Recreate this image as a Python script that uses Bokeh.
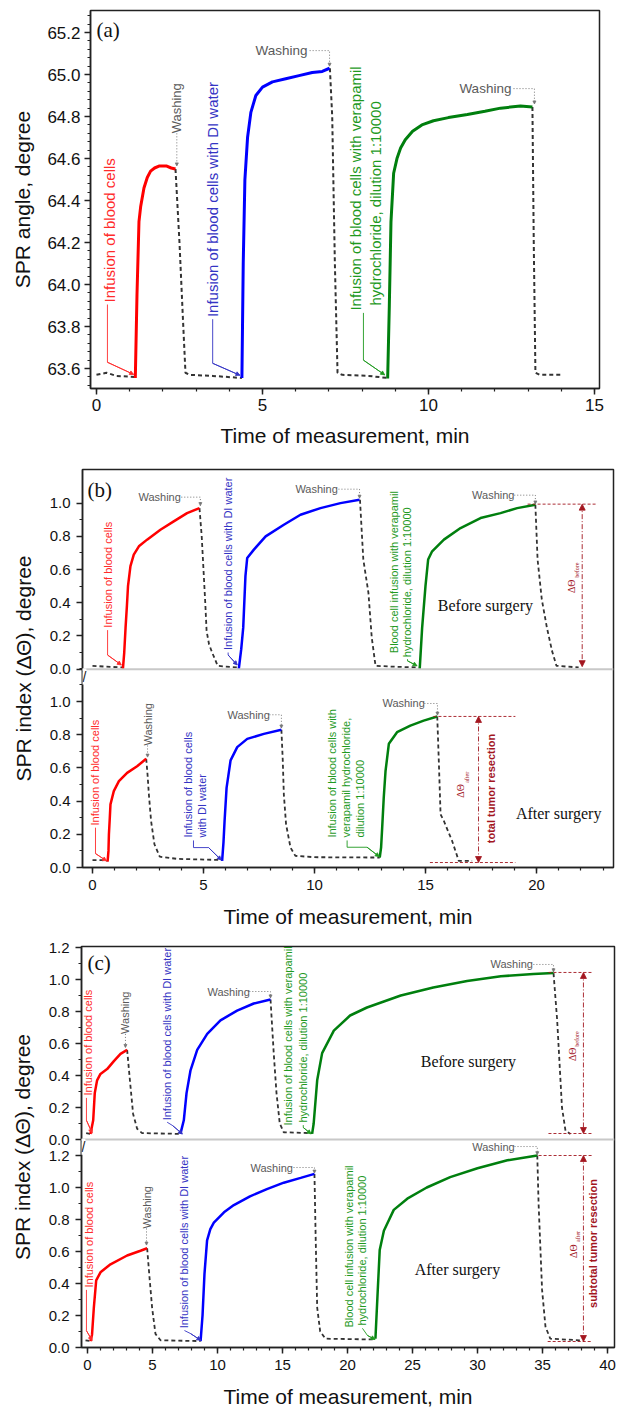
import numpy as np
from bokeh.plotting import figure
from bokeh.models import (Range1d, Span, Arrow, NormalHead, Label, FixedTicker,
                          SingleIntervalTicker, CustomJSTickFormatter, PrintfTickFormatter)
from bokeh.embed import file_html
from bokeh.resources import INLINE
from bokeh.core.properties import value

# ---------------- DATA ----------------
# Panel (a): SPR angle, degree vs time, min
a_base_t = [0.0, 0.3, 0.6, 1.17]
a_base_v = [63.57, 63.58, 63.565, 63.56]
a_red_t = [1.17, 1.22, 1.28, 1.33, 1.43, 1.53, 1.63, 1.75, 1.9, 2.1, 2.25, 2.38]
a_red_v = [63.555, 63.95, 64.3, 64.37, 64.46, 64.51, 64.54, 64.555, 64.565, 64.565, 64.555, 64.55]
a_w1_t = [2.38, 2.5, 2.6, 2.68, 2.8, 3.5, 4.38]
a_w1_v = [64.55, 64.2, 63.85, 63.58, 63.57, 63.565, 63.555]
a_blue_t = [4.38, 4.42, 4.47, 4.55, 4.65, 4.8, 5.0, 5.3, 5.7, 6.1, 6.5, 6.8, 7.02]
a_blue_v = [63.555, 64.1, 64.5, 64.7, 64.82, 64.9, 64.94, 64.965, 64.98, 64.995, 65.01, 65.015, 65.03]
a_w2_t = [7.03, 7.1, 7.18, 7.26, 7.4, 8.2, 8.77]
a_w2_v = [65.03, 64.8, 64.1, 63.58, 63.57, 63.565, 63.555]
a_green_t = [8.77, 8.82, 8.87, 8.95, 9.05, 9.16, 9.3, 9.52, 9.8, 10.15, 10.6, 11.17, 11.7, 12.17, 12.77, 13.13]
a_green_v = [63.553, 63.9, 64.3, 64.53, 64.6, 64.65, 64.69, 64.73, 64.76, 64.78, 64.795, 64.81, 64.825, 64.84, 64.85, 64.845]
a_w3_t = [13.13, 13.17, 13.22, 13.35, 13.98]
a_w3_v = [64.845, 64.2, 63.58, 63.57, 63.57]

# Panel (b) before surgery (upper)
b1_base_t = [0.0, 0.6, 1.37]
b1_base_v = [0.02, 0.015, 0.01]
b1_red_t = [1.37, 1.43, 1.49, 1.55, 1.6, 1.71, 1.86, 2.09, 2.46, 3.06, 3.66, 4.26, 4.82]
b1_red_v = [0.0, 0.1, 0.25, 0.38, 0.5, 0.62, 0.69, 0.74, 0.78, 0.84, 0.89, 0.94, 0.97]
b1_w1_t = [4.82, 4.92, 5.0, 5.08, 5.14, 5.25, 5.39, 5.64, 6.0, 6.59]
b1_w1_v = [0.97, 0.8, 0.6, 0.4, 0.23, 0.15, 0.1, 0.02, 0.015, 0.01]
b1_blue_t = [6.59, 6.7, 6.79, 6.89, 6.97, 7.27, 7.8, 8.62, 9.37, 10.27, 11.17, 12.03]
b1_blue_v = [0.0, 0.12, 0.25, 0.56, 0.67, 0.72, 0.8, 0.87, 0.93, 0.97, 1.0, 1.02]
b1_w2_t = [12.05, 12.12, 12.2, 12.43, 12.58, 12.75, 13.5, 14.7]
b1_w2_v = [1.02, 0.85, 0.66, 0.46, 0.19, 0.02, 0.015, 0.01]
b1_green_t = [14.74, 14.85, 15.0, 15.12, 15.3, 15.83, 16.58, 17.48, 18.38, 19.13, 19.95]
b1_green_v = [0.0, 0.25, 0.5, 0.66, 0.71, 0.78, 0.85, 0.91, 0.94, 0.97, 0.99]
b1_w3_t = [19.95, 20.05, 20.24, 20.47, 20.7, 20.9, 21.9]
b1_w3_v = [0.99, 0.66, 0.42, 0.25, 0.11, 0.02, 0.01]

# Panel (b) after surgery (lower)
b2_base_t = [0.0, 0.4, 0.68]
b2_base_v = [0.045, 0.045, 0.04]
b2_red_t = [0.68, 0.72, 0.74, 0.78, 0.81, 0.96, 1.19, 1.56, 2.01, 2.42]
b2_red_v = [0.035, 0.1, 0.2, 0.3, 0.38, 0.46, 0.52, 0.57, 0.61, 0.655]
b2_w1_t = [2.42, 2.48, 2.54, 2.64, 2.79, 3.03, 3.81, 5.84]
b2_w1_v = [0.655, 0.56, 0.44, 0.28, 0.14, 0.065, 0.052, 0.045]
b2_blue_t = [5.84, 5.9, 5.95, 6.04, 6.22, 6.52, 6.97, 7.72, 8.51]
b2_blue_v = [0.04, 0.15, 0.28, 0.48, 0.645, 0.725, 0.775, 0.805, 0.83]
b2_w2_t = [8.51, 8.57, 8.62, 8.72, 8.92, 9.14, 10.0, 12.94]
b2_w2_v = [0.83, 0.65, 0.44, 0.26, 0.12, 0.07, 0.062, 0.06]
b2_green_t = [12.94, 13.0, 13.05, 13.12, 13.2, 13.35, 13.72, 14.32, 14.92, 15.53]
b2_green_v = [0.06, 0.12, 0.24, 0.42, 0.58, 0.745, 0.815, 0.855, 0.885, 0.91]
b2_w3_t = [15.53, 15.6, 15.68, 15.83, 16.2, 16.5, 17.1]
b2_w3_v = [0.91, 0.645, 0.32, 0.28, 0.16, 0.04, 0.04]

# Panel (c) before surgery (upper)
c1_base_t = [-0.1, 0.23]
c1_base_v = [0.04, 0.035]
c1_red_t = [0.23, 0.44, 0.56, 0.74, 1.0, 1.51, 2.03, 2.54, 3.05]
c1_red_v = [0.035, 0.12, 0.29, 0.37, 0.41, 0.44, 0.49, 0.535, 0.56]
c1_w1_t = [3.05, 3.31, 3.51, 3.82, 4.2, 7.15]
c1_w1_v = [0.56, 0.33, 0.16, 0.067, 0.04, 0.035]
c1_blue_t = [7.15, 7.41, 7.62, 7.92, 8.44, 9.21, 10.23, 11.51, 12.79, 14.08]
c1_blue_v = [0.035, 0.12, 0.29, 0.43, 0.56, 0.66, 0.745, 0.805, 0.85, 0.875]
c1_w2_t = [14.08, 14.33, 14.54, 14.79, 15.1, 17.28]
c1_w2_v = [0.875, 0.535, 0.29, 0.1, 0.045, 0.04]
c1_green_t = [17.28, 17.4, 17.67, 18.05, 18.95, 20.2, 21.5, 24.1, 26.6, 29.2, 31.8, 34.3, 35.85]
c1_green_v = [0.035, 0.1, 0.37, 0.54, 0.68, 0.775, 0.825, 0.9, 0.95, 0.99, 1.02, 1.035, 1.04]
c1_w3_t = [35.85, 36.13, 36.5, 36.77, 37.15]
c1_w3_v = [1.04, 0.745, 0.2, 0.055, 0.035]

# Panel (c) after surgery (lower)
c2_base_t = [-0.15, 0.23]
c2_base_v = [0.045, 0.04]
c2_red_t = [0.23, 0.35, 0.49, 0.67, 1.0, 1.77, 3.05, 4.08, 4.59]
c2_red_v = [0.04, 0.08, 0.25, 0.42, 0.47, 0.52, 0.575, 0.605, 0.62]
c2_w1_t = [4.59, 4.79, 4.97, 5.23, 5.62, 8.7]
c2_w1_v = [0.62, 0.42, 0.25, 0.085, 0.045, 0.04]
c2_blue_t = [8.7, 8.85, 9.0, 9.2, 9.45, 9.72, 10.5, 11.26, 12.5, 13.8, 15.1, 16.4, 17.46]
c2_blue_v = [0.04, 0.2, 0.46, 0.67, 0.74, 0.78, 0.845, 0.89, 0.945, 0.99, 1.03, 1.06, 1.085]
c2_w2_t = [17.46, 17.55, 17.67, 17.9, 18.3, 22.15]
c2_w2_v = [1.085, 0.7, 0.25, 0.1, 0.055, 0.05]
c2_green_t = [22.15, 22.33, 22.48, 22.8, 23.56, 24.6, 26.1, 27.9, 30.0, 32.3, 34.6]
c2_green_v = [0.055, 0.36, 0.61, 0.73, 0.86, 0.93, 1.0, 1.065, 1.12, 1.17, 1.2]
c2_w3_t = [34.6, 34.7, 34.97, 35.23, 35.6, 37.9]
c2_w3_v = [1.2, 0.9, 0.36, 0.13, 0.055, 0.045]

# tick values
bc_y_ticks_b = [0.0, 0.2, 0.4, 0.6, 0.8, 1.0]
bc_y_ticks_c = [0.0, 0.2, 0.4, 0.6, 0.8, 1.0, 1.2]

# ---------------- STYLE ----------------
SANS = "Liberation Sans"
SERIF = "Liberation Serif"
RED, BLUE, GREEN, DASHC = "#ff0000", "#0000ff", "#007f0e", "#333333"
RED_T, BLUE_T, GREEN_T, GRAY_T, DRED = "#ff2b2b", "#3434c4", "#1f9a1f", "#5a5a5a", "#a3161f"
AX = "#222222"
ROT = np.pi / 2


def kw(yr):
    return {} if yr is None else {"y_range_name": yr}


def L(p, xs, ys, color, width, dash="solid", yr=None):
    p.line(xs, ys, line_color=color, line_width=width, line_dash=dash, **kw(yr))


def T(p, x, y, s, size, color, angle=0.0, align="left", baseline="middle",
      font=SANS, style="normal", yr=None):
    p.text(x=[x], y=[y], text=[s], angle=angle, text_font=value(font),
           text_font_size=value(size), text_color=color, text_align=align,
           text_baseline=baseline, text_font_style=style, **kw(yr))


def A(p, x0, y0, x1, y1, color, width=1.0, size=5, dash="solid", yr=None, both=False):
    head = lambda: NormalHead(size=size, fill_color=color, line_color=color, line_width=0.8)
    ar = Arrow(end=head(), start=head() if both else None, x_start=x0, y_start=y0,
               x_end=x1, y_end=y1, line_color=color, line_width=width, line_dash=dash, **kw(yr))
    p.add_layout(ar)


def leader(p, pts, color, yr=None, size=4):
    xs = [q[0] for q in pts]
    ys = [q[1] for q in pts]
    L(p, xs, ys, color, 0.9, yr=yr)
    A(p, xs[-2], ys[-2], xs[-1], ys[-1], color, width=0.9, size=size, yr=yr)


def washing_h(p, x, y, xend, xc, yc, size, yr=None):
    T(p, x, y, "Washing", size, GRAY_T, yr=yr)
    L(p, [xend, xc, xc], [y, y, yc], "#777777", 1.0, dash="1 2", yr=yr)
    A(p, xc, y, xc, yc, "#777777", width=0.01, size=3, yr=yr)


def washing_v(p, x, y, yc, size, yr=None):
    T(p, x, y, "Washing", size, GRAY_T, angle=ROT, yr=yr)
    L(p, [x, x], [y, yc], "#777777", 1.0, dash="1 2", yr=yr)
    A(p, x, y, x, yc, "#777777", width=0.01, size=3, yr=yr)


def style_axes(p, tick_size, title_size, lab_standoff, title_standoff):
    p.outline_line_color = AX
    p.outline_line_width = 1.5
    p.xgrid.visible = False
    p.ygrid.visible = False
    p.background_fill_color = "white"
    p.border_fill_color = "white"
    for ax in list(p.xaxis) + list(p.yaxis):
        ax.axis_line_color = AX
        ax.axis_line_width = 1.5
        ax.major_tick_line_color = AX
        ax.major_tick_line_width = 1.5
        ax.minor_tick_line_color = AX
        ax.minor_tick_line_width = 1.2
        ax.major_tick_in = 0
        ax.major_tick_out = 6
        ax.minor_tick_in = 0
        ax.minor_tick_out = 3
        ax.major_label_text_font = SANS
        ax.major_label_text_font_size = tick_size
        ax.major_label_text_color = "#111111"
        ax.major_label_standoff = lab_standoff
        ax.axis_label_text_font = SANS
        ax.axis_label_text_font_size = title_size
        ax.axis_label_text_font_style = "normal"
        ax.axis_label_text_color = "#111111"
        ax.axis_label_standoff = title_standoff


def curves(p, segs, lw, dw, yr=None):
    for (t, v, c) in segs:
        if c == "dash":
            L(p, t, v, DASHC, dw, dash="4 3", yr=yr)
        else:
            L(p, t, v, c, lw, yr=yr)


# ---------------- PANEL (a) ----------------
pa = figure(frame_width=509, frame_height=378, x_range=Range1d(-0.18, 15.15),
            y_range=Range1d(63.505, 65.305), output_backend="svg", toolbar_location=None,
            min_border_left=90, min_border_right=8, min_border_top=10, min_border_bottom=73)
pa.xaxis.ticker = SingleIntervalTicker(interval=5, num_minor_ticks=5)
pa.yaxis.ticker = SingleIntervalTicker(interval=0.2, num_minor_ticks=5)
pa.xaxis.formatter = PrintfTickFormatter(format="%d")
pa.yaxis.formatter = PrintfTickFormatter(format="%.1f")
pa.xaxis.axis_label = "Time of measurement, min"
pa.yaxis.axis_label = "SPR angle, degree"
style_axes(pa, "17px", "21px", 4, 10)

curves(pa, [(a_base_t, a_base_v, "dash"), (a_w1_t, a_w1_v, "dash"), (a_w2_t, a_w2_v, "dash"),
            (a_w3_t, a_w3_v, "dash"), (a_red_t, a_red_v, RED), (a_blue_t, a_blue_v, BLUE),
            (a_green_t, a_green_v, GREEN)], 3, 2)

T(pa, 0.0, 65.21, "(a)", "21px", "#111111", font=SERIF)
T(pa, 0.38, 63.915, "Infusion of blood cells", "15px", RED_T, angle=ROT)
leader(pa, [(0.33, 63.905), (0.33, 63.63), (1.12, 63.572)], RED_T)
T(pa, 3.48, 63.845, "Infusion of blood cells with DI water", "15px", BLUE_T, angle=ROT)
leader(pa, [(3.5, 63.835), (3.5, 63.625), (4.32, 63.568)], BLUE_T)
T(pa, 7.8, 63.876, "Infusion of blood cells with verapamil", "15px", GREEN_T, angle=ROT)
T(pa, 8.4, 63.9, "hydrochloride, dilution 1:10000", "15px", GREEN_T, angle=ROT)
leader(pa, [(8.04, 63.865), (8.04, 63.64), (8.68, 63.57)], GREEN_T)
washing_v(pa, 2.42, 64.72, 64.565, "13px")
washing_h(pa, 4.79, 65.114, 6.42, 7.02, 65.04, "13.5px")
washing_h(pa, 10.93, 64.933, 12.56, 13.19, 64.86, "13.5px")


# ---------------- helper for broken-axis panels ----------------
def broken_fig(frame_w, frame_h, xr, scale, off, up_ticks, low_ticks, min_left, min_bottom, min_right):
    y_end = frame_h / scale
    p = figure(frame_width=frame_w, frame_height=frame_h, x_range=Range1d(*xr),
               y_range=Range1d(0, y_end), output_backend="svg", toolbar_location=None,
               min_border_left=min_left, min_border_right=min_right, min_border_top=8,
               min_border_bottom=min_bottom)
    p.extra_y_ranges = {"up": Range1d(-off, y_end - off)}
    p.xaxis.ticker = SingleIntervalTicker(interval=5, num_minor_ticks=5)
    p.xaxis.formatter = PrintfTickFormatter(format="%d")
    majors = [round(t, 4) for t in low_ticks] + [round(off + t, 4) for t in up_ticks]
    minors = [round(i * 0.1, 4) for i in range(int(round(off / 0.1)) + 1)] + \
             [round(off + i * 0.1, 4) for i in range(int(round(up_ticks[-1] / 0.1)) + 1)]
    p.yaxis.ticker = FixedTicker(ticks=majors, minor_ticks=minors)
    p.yaxis.formatter = CustomJSTickFormatter(args=dict(off=off), code="""
        var v = tick > off - 0.01 ? tick - off : tick;
        if (Math.abs(v) < 1e-9) { v = 0; }
        return v.toFixed(1);
    """)
    p.xaxis.axis_label = "Time of measurement, min"
    p.yaxis.axis_label = "SPR index (\u0394\u0398), degree"
    style_axes(p, "15px", "21px", 6, 12)
    p.add_layout(Span(location=0, dimension="width", y_range_name="up",
                      line_color="#c8c8c8", line_width=2))
    p.add_layout(Label(x=0, y=-0.045, x_units="screen", y_range_name="up", text="//",
                       text_font=SANS, text_font_size="14px", text_color=AX,
                       text_align="center", text_baseline="middle",
                       background_fill_color="white"))
    return p


def delta_text(p, x, y, sub, xs, ys, yr=None):
    T(p, x, y, "\u0394\u0398", "10px", DRED, angle=ROT, font=SERIF, yr=yr)
    T(p, xs, ys, sub, "6px", DRED, angle=ROT, font=SERIF, yr=yr)


# ---------------- PANEL (b) ----------------
pb = broken_fig(531, 398, (-0.45, 23.47), 166.0, 1.195, bc_y_ticks_b, bc_y_ticks_b, 82, 71, 5)
curves(pb, [(b1_base_t, b1_base_v, "dash"), (b1_w1_t, b1_w1_v, "dash"), (b1_w2_t, b1_w2_v, "dash"),
            (b1_w3_t, b1_w3_v, "dash"), (b1_red_t, b1_red_v, RED), (b1_blue_t, b1_blue_v, BLUE),
            (b1_green_t, b1_green_v, GREEN)], 2.5, 1.8, yr="up")
curves(pb, [(b2_base_t, b2_base_v, "dash"), (b2_w1_t, b2_w1_v, "dash"), (b2_w2_t, b2_w2_v, "dash"),
            (b2_w3_t, b2_w3_v, "dash"), (b2_red_t, b2_red_v, RED), (b2_blue_t, b2_blue_v, BLUE),
            (b2_green_t, b2_green_v, GREEN)], 2.5, 1.8)

U = "up"
T(pb, -0.22, 1.08, "(b)", "21px", "#111111", font=SERIF, yr=U)
T(pb, 0.68, 0.25, "Infusion of blood cells", "11px", RED_T, angle=ROT, yr=U)
leader(pb, [(0.68, 0.235), (0.68, 0.085), (1.3, 0.025)], RED_T, yr=U)
washing_h(pb, 2.07, 1.036, 4.0, 4.86, 0.985, "11px", yr=U)
T(pb, 6.11, 0.115, "Infusion of blood cells with DI water", "11px", BLUE_T, angle=ROT, yr=U)
leader(pb, [(6.11, 0.10), (6.11, 0.085), (6.52, 0.025)], BLUE_T, yr=U)
washing_h(pb, 9.14, 1.084, 11.08, 12.03, 1.03, "11px", yr=U)
T(pb, 13.56, 0.096, "Blood cell infusion with verapamil", "11px", GREEN_T, angle=ROT, yr=U)
T(pb, 14.19, 0.072, "hydrochloride, dilution 1:10000", "11px", GREEN_T, angle=ROT, yr=U)
leader(pb, [(14.19, 0.06), (14.19, 0.05), (14.62, 0.02)], GREEN_T, yr=U)
washing_h(pb, 17.1, 1.048, 19.0, 19.95, 0.995, "11px", yr=U)
L(pb, [19.6, 22.75], [0.994, 0.994], DRED, 0.9, dash="3 2", yr=U)
A(pb, 22.06, 0.994, 22.06, 0.015, DRED, width=0.9, size=6, dash="5 2 1 2", yr=U, both=True)
delta_text(pb, 21.56, 0.458, "before", 21.83, 0.55, yr=U)
T(pb, 17.7, 0.386, "Before surgery", "16px", "#111111", align="center", font=SERIF, yr=U)

T(pb, 0.135, 0.253, "Infusion of blood cells", "11px", RED_T, angle=ROT)
leader(pb, [(0.135, 0.24), (0.135, 0.084), (0.63, 0.04)], RED_T)
washing_v(pb, 2.48, 0.735, 0.665, "11px")
T(pb, 4.32, 0.18, "Infusion of blood cells", "11px", BLUE_T, angle=ROT)
T(pb, 4.95, 0.18, "with DI water", "11px", BLUE_T, angle=ROT)
leader(pb, [(4.55, 0.163), (4.55, 0.12), (5.23, 0.12), (5.8, 0.045)], BLUE_T)
washing_h(pb, 6.08, 0.92, 7.97, 8.51, 0.84, "11px")
T(pb, 10.81, 0.18, "Infusion of blood cells with", "11px", GREEN_T, angle=ROT)
T(pb, 11.4, 0.18, "verapamil hydrochloride,", "11px", GREEN_T, angle=ROT)
T(pb, 12.07, 0.18, "dilution 1:10000", "11px", GREEN_T, angle=ROT)
leader(pb, [(11.47, 0.163), (11.47, 0.122), (12.37, 0.122), (12.92, 0.065)], GREEN_T)
washing_h(pb, 13.06, 0.988, 14.95, 15.54, 0.918, "11px")
L(pb, [15.36, 19.05], [0.91, 0.91], DRED, 0.9, dash="3 2")
L(pb, [15.2, 19.05], [0.03, 0.03], DRED, 0.9, dash="3 2")
A(pb, 17.39, 0.91, 17.39, 0.03, DRED, width=0.9, size=6, dash="5 2 1 2", both=True)
delta_text(pb, 16.6, 0.42, "after", 16.85, 0.51)
T(pb, 17.93, 0.476, "total tumor resection", "11px", DRED, angle=ROT, align="center", style="bold")
T(pb, 21.0, 0.325, "After surgery", "16px", "#111111", align="center", font=SERIF)

# ---------------- PANEL (c) ----------------
pc = broken_fig(533, 401, (-0.46, 40.54), 160.0, 1.3, bc_y_ticks_c, bc_y_ticks_c, 81, 58, 4)
curves(pc, [(c1_base_t, c1_base_v, "dash"), (c1_w1_t, c1_w1_v, "dash"), (c1_w2_t, c1_w2_v, "dash"),
            (c1_w3_t, c1_w3_v, "dash"), (c1_red_t, c1_red_v, RED), (c1_blue_t, c1_blue_v, BLUE),
            (c1_green_t, c1_green_v, GREEN)], 2.5, 1.8, yr="up")
curves(pc, [(c2_base_t, c2_base_v, "dash"), (c2_w1_t, c2_w1_v, "dash"), (c2_w2_t, c2_w2_v, "dash"),
            (c2_w3_t, c2_w3_v, "dash"), (c2_red_t, c2_red_v, RED), (c2_blue_t, c2_blue_v, BLUE),
            (c2_green_t, c2_green_v, GREEN)], 2.5, 1.8)

T(pc, 0.0, 1.106, "(c)", "21px", "#111111", font=SERIF, yr=U)
T(pc, 0.04, 0.275, "Infusion of blood cells", "11px", RED_T, angle=ROT, yr=U)
leader(pc, [(-0.08, 0.26), (-0.08, 0.12), (0.36, 0.04)], RED_T, yr=U)
washing_v(pc, 2.92, 0.66, 0.575, "11px", yr=U)
T(pc, 6.15, 0.12, "Infusion of blood cells with DI water", "11px", BLUE_T, angle=ROT, yr=U)
leader(pc, [(6.13, 0.108), (6.54, 0.0875), (7.3, 0.035)], BLUE_T, yr=U)
washing_h(pc, 9.23, 0.925, 12.45, 14.08, 0.885, "11px", yr=U)
T(pc, 15.46, 0.0875, "Infusion of blood cells with verapamil", "11px", GREEN_T, angle=ROT, yr=U)
T(pc, 16.6, 0.106, "hydrochloride, dilution 1:10000", "11px", GREEN_T, angle=ROT, yr=U)
leader(pc, [(16.6, 0.09), (16.6, 0.075), (17.2, 0.035)], GREEN_T, yr=U)
washing_h(pc, 31.0, 1.094, 34.3, 35.85, 1.048, "11px", yr=U)
L(pc, [35.46, 38.92], [1.044, 1.044], DRED, 0.9, dash="3 2", yr=U)
L(pc, [35.46, 38.92], [0.0375, 0.0375], DRED, 0.9, dash="3 2", yr=U)
A(pc, 38.15, 1.044, 38.15, 0.0375, DRED, width=0.9, size=6, dash="5 2 1 2", yr=U, both=True)
delta_text(pc, 37.3, 0.49, "before", 37.67, 0.58, yr=U)
T(pc, 29.3, 0.49, "Before surgery", "16px", "#111111", align="center", font=SERIF, yr=U)

T(pc, 0.08, 0.375, "Infusion of blood cells", "11px", RED_T, angle=ROT)
leader(pc, [(-0.08, 0.36), (-0.08, 0.105), (0.36, 0.044)], RED_T)
washing_v(pc, 4.54, 0.744, 0.64, "11px")
T(pc, 7.46, 0.12, "Infusion of blood cells with DI water", "11px", BLUE_T, angle=ROT)
leader(pc, [(7.46, 0.106), (7.92, 0.0875), (8.72, 0.045)], BLUE_T)
washing_h(pc, 12.54, 1.125, 15.85, 17.46, 1.09, "11px")
T(pc, 20.08, 0.125, "Blood cell infusion with verapamil", "11px", GREEN_T, angle=ROT)
T(pc, 21.15, 0.1375, "hydrochloride, dilution 1:10000", "11px", GREEN_T, angle=ROT)
leader(pc, [(21.15, 0.12), (21.54, 0.075), (22.12, 0.05)], GREEN_T)
washing_h(pc, 29.6, 1.256, 32.85, 34.6, 1.205, "11px")
L(pc, [34.7, 38.85], [1.2, 1.2], DRED, 0.9, dash="3 2")
L(pc, [35.4, 38.85], [0.0375, 0.0375], DRED, 0.9, dash="3 2")
A(pc, 38.15, 1.2, 38.15, 0.0375, DRED, width=0.9, size=6, dash="5 2 1 2", both=True)
delta_text(pc, 37.4, 0.56, "after", 37.75, 0.66)
T(pc, 38.92, 0.65, "subtotal tumor resection", "11px", DRED, angle=ROT, align="center", style="bold")
T(pc, 28.46, 0.49, "After surgery", "16px", "#111111", align="center", font=SERIF)

# three independent roots stacked on the page (keeps each panel's own frame position)
open("out.html", "w").write(file_html([pa, pb, pc], INLINE))
